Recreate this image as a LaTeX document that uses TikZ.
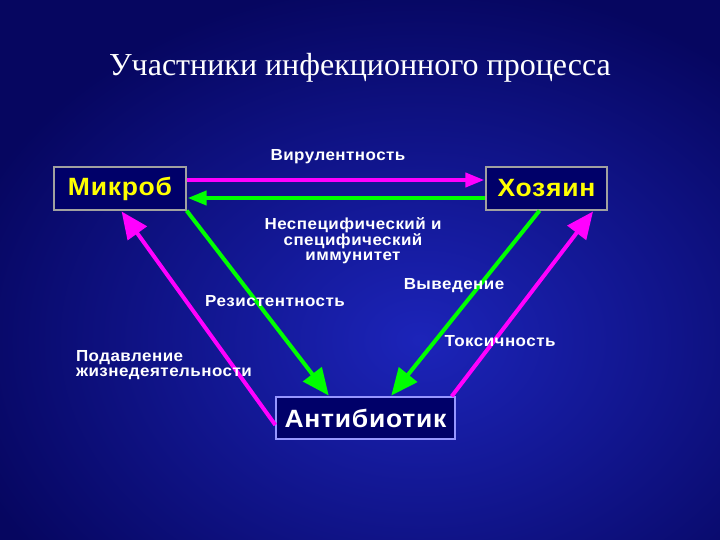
\documentclass[tikz,border=0pt]{standalone}
\usepackage{fontspec}
\setmainfont{Liberation Sans}[FakeStretch=1.06,LetterSpace=3]
\newfontfamily\titlefont{Liberation Serif}
\usetikzlibrary{arrows.meta,positioning}
\definecolor{bgdark}{RGB}{6,6,96}
\definecolor{bglight}{RGB}{28,36,185}
\definecolor{boxfill}{RGB}{0,0,105}
\definecolor{rimgray}{RGB}{160,160,160}
\definecolor{rimblue}{RGB}{150,150,255}
\definecolor{arrmag}{RGB}{255,0,255}
\definecolor{arrgrn}{RGB}{0,255,0}
\definecolor{labyel}{RGB}{255,255,0}

\begin{document}
\begin{tikzpicture}[x=1pt,y=-1pt,line width=4pt,shorten >=1pt,
    box/.style={draw=rimgray,line width=1.3pt,fill=boxfill,text=labyel,
      font=\bfseries\fontsize{25}{28}\selectfont,minimum height=43pt,inner sep=0pt},
    lab/.style={text=white,font=\bfseries\fontsize{16}{15.7}\selectfont,align=center,inner sep=0pt},
    bigtip/.style={-{Triangle[length=27pt,width=23pt]}},
    smalltip/.style={-{Triangle[length=19pt,width=14pt]}}]
  % background
  \useasboundingbox (0,0) rectangle (720,540);
  \fill[bgdark] (0,0) rectangle (720,540);
  \shade[inner color=bglight,outer color=bgdark] (-60,-20) rectangle (900,700);
  \node[text=white,font=\titlefont\fontsize{32}{36}\selectfont] (title) at (360,68) {Участники инфекционного процесса};

  % participants
  \node[box,minimum width=132pt] (mik) at (120,188.5) {Микроб};
  \node[box,minimum width=121pt] (hoz) at (546.5,188.5) {Хозяин};
  \node[box,draw=rimblue,text=white,minimum width=179pt,minimum height=42pt] (ant) at (365.5,418) {Антибиотик};

  % relations
  \path[arrmag,smalltip] ([yshift=8.5pt]mik.east) edge ([yshift=8.5pt]hoz.west);
  \path[arrgrn,smalltip] ([yshift=-9.5pt]hoz.west) edge ([yshift=-9.5pt]mik.east);
  \path[arrgrn,bigtip]
    (mik.south east) edge ([xshift=54pt]ant.north west)
    ([xshift=-7pt]hoz.south) edge ([xshift=-65pt]ant.north east);
  \path[arrmag,bigtip]
    ([yshift=-7pt]ant.west) edge ([xshift=1pt]mik.south)
    ([xshift=-4pt]ant.north east) edge ([xshift=-14pt]hoz.south east);

  % labels
  \node[lab] (vir) at (338,157) {Вирулентность};
  \node[lab] (imm) at (353,241) {Неспецифический и\\специфический\\иммунитет};
  \node[lab] (rez) at (275,301) {Резистентность};
  \node[lab] (vyv) at (454,286) {Выведение};
  \node[lab] (tox) at (500,341) {Токсичность};
  \node[lab,align=left,anchor=west] (pod) at (74,365) {Подавление\\жизнедеятельности};
\end{tikzpicture}
\end{document}
